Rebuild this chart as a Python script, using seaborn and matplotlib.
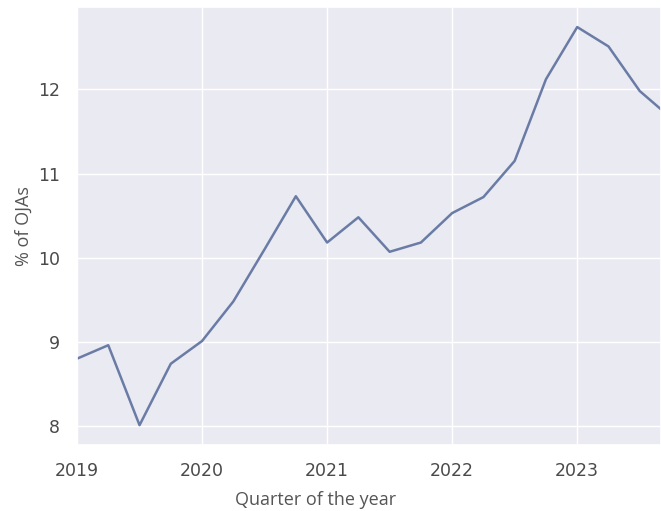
import numpy as np
import pandas as pd
import matplotlib
matplotlib.use("Agg")
import matplotlib.pyplot as plt
import seaborn as sns

# quarterly share of online job ads
quarters = ["2019Q1", "2019Q2", "2019Q3", "2019Q4",
            "2020Q1", "2020Q2", "2020Q3", "2020Q4",
            "2021Q1", "2021Q2", "2021Q3", "2021Q4",
            "2022Q1", "2022Q2", "2022Q3", "2022Q4",
            "2023Q1", "2023Q2", "2023Q3", "2023Q4"]
share = [8.80, 8.96, 8.01, 8.74,
         9.01, 9.48, 10.10, 10.73,
         10.18, 10.48, 10.07, 10.18,
         10.53, 10.72, 11.15, 12.12,
         12.74, 12.51, 11.98, 11.66]
year_ticks = [2019, 2020, 2021, 2022, 2023]

per = pd.PeriodIndex(quarters, freq="Q")
df = pd.DataFrame({"t": per.year + (per.quarter - 1) / 4, "share": share})

sns.set_theme(style="darkgrid")

fig = plt.figure(figsize=(6.61, 5.11), dpi=100)
ax = fig.add_axes([0.1165, 0.129, 0.8835, 0.857])
sns.lineplot(data=df, x="t", y="share", ax=ax, color="#6a7ca6", linewidth=1.8)

ax.set_xlim(2019, 2023.67)
ax.set_xticks(year_ticks)
ax.set_xticklabels([str(y) for y in year_ticks])
ax.set_yticks([8, 9, 10, 11, 12])
ax.tick_params(axis="both", labelsize=12.5, colors="#4a4a4a", pad=6)
ax.set_xlabel("Quarter of the year", fontsize=13, color="#555555",
              family=["Open Sans", "DejaVu Sans"])
ax.xaxis.set_label_coords(0.408, -0.105)
ax.set_ylabel("% of OJAs", fontsize=13, color="#555555",
              family=["Open Sans", "DejaVu Sans"], labelpad=4)

fig.savefig("out.png", dpi=100)
